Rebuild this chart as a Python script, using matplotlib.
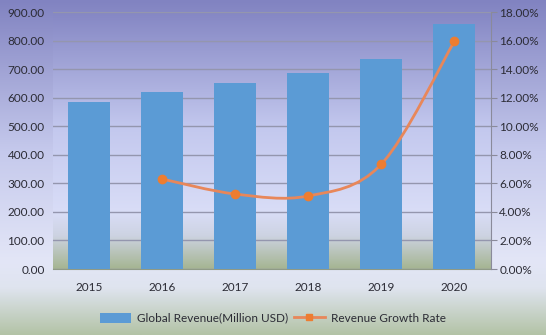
import numpy as np
import matplotlib.pyplot as plt
from matplotlib.path import Path
from matplotlib.patches import PathPatch
from matplotlib.colors import LinearSegmentedColormap
from matplotlib.lines import Line2D
from matplotlib.patches import Patch
from matplotlib.ticker import FuncFormatter

plt.rcParams['font.family'] = ['Lato', 'DejaVu Sans']

# data
years = ["2015", "2016", "2017", "2018", "2019", "2020"]
revenue = [585.0, 620.0, 651.0, 686.0, 735.0, 857.0]
growth_years = ["2016", "2017", "2018", "2019", "2020"]
growth = [6.30, 5.25, 5.12, 7.35, 15.95]

bar_color = "#5b9bd5"
line_color = "#e8875a"
marker_color = "#ed7d31"
text_color = "#2b2b35"
grid_color = "#9496ae"

fig = plt.figure(figsize=(5.46, 3.35), dpi=100)

# figure background gradient (purple top -> pale lavender -> green bottom)
bg_cmap = LinearSegmentedColormap.from_list(
    "bg", [(0.0, "#8183c1"), (0.45, "#c5c9ec"), (0.78, "#e3e6f7"),
           (0.86, "#dfe4ef"), (1.0, "#b3c3a6")])
bg = fig.add_axes([0, 0, 1, 1], zorder=-10)
bg.imshow(np.linspace(0, 1, 256).reshape(-1, 1), cmap=bg_cmap,
          aspect="auto", extent=[0, 1, 0, 1])
bg.set_axis_off()

ax = fig.add_axes([0.097, 0.197, 0.802, 0.767])
ax.set_facecolor("none")

# plot area gradient
pa_cmap = LinearSegmentedColormap.from_list(
    "pa", [(0.0, "#8587c4"), (0.45, "#c3c8ee"), (0.78, "#d9ddf7"),
           (0.87, "#cdd3e2"), (1.0, "#a5b592")])
ax.imshow(np.linspace(0, 1, 256).reshape(-1, 1), cmap=pa_cmap,
          aspect="auto", extent=[0, 1, 0, 1], transform=ax.transAxes,
          zorder=0)

x = np.arange(len(years))
ax.bar(x, revenue, width=0.575, color=bar_color, zorder=3)
ax.set_xlim(-0.5, len(years) - 0.5)
ax.set_ylim(0, 900)
ax.set_yticks(np.arange(0, 901, 100))
ax.yaxis.set_major_formatter(FuncFormatter(lambda v, p: f"{v:.2f}"))
ax.set_xticks(x)
ax.set_xticklabels(years)
ax.grid(axis="y", color=grid_color, linewidth=1.0, zorder=1)
ax.set_axisbelow(True)
ax.tick_params(axis="y", length=0, pad=6, labelsize=8.5, labelcolor=text_color)
ax.tick_params(axis="x", length=0, pad=9, labelsize=8.5, labelcolor=text_color)
for s in ["top", "right", "left"]:
    ax.spines[s].set_visible(False)
ax.spines["bottom"].set_color("#8f9a86")

# growth rate on secondary axis
ax2 = ax.twinx()
ax2.set_ylim(0, 18)
ax2.set_yticks(np.arange(0, 18.1, 2))
ax2.yaxis.set_major_formatter(FuncFormatter(lambda v, p: f"{v:.2f}%"))
ax2.tick_params(axis="y", length=4, color="#8a8a9a", pad=2, labelsize=8.5,
                labelcolor=text_color)
for s in ["top", "left", "bottom"]:
    ax2.spines[s].set_visible(False)
ax2.spines["right"].set_color("#8a8a9a")

gx = np.array([years.index(y) for y in growth_years], dtype=float)
gy = np.array(growth)

# smoothed line through the points with cubic bezier segments
verts = [(gx[0], gy[0])]
codes = [Path.MOVETO]
n = len(gx)
for i in range(n - 1):
    p0 = (gx[max(i - 1, 0)], gy[max(i - 1, 0)])
    p1 = (gx[i], gy[i])
    p2 = (gx[i + 1], gy[i + 1])
    p3 = (gx[min(i + 2, n - 1)], gy[min(i + 2, n - 1)])
    c1 = (p1[0] + (p2[0] - p0[0]) / 6, p1[1] + (p2[1] - p0[1]) / 6)
    c2 = (p2[0] - (p3[0] - p1[0]) / 6, p2[1] - (p3[1] - p1[1]) / 6)
    verts += [c1, c2, p2]
    codes += [Path.CURVE4] * 3
ax2.add_patch(PathPatch(Path(verts, codes), facecolor="none",
                        edgecolor=line_color, linewidth=2.0, zorder=4))
ax2.plot(gx, gy, linestyle="none", marker="o", markersize=6,
         color=marker_color, zorder=5)

handles = [Patch(facecolor=bar_color, edgecolor="none"),
           Line2D([0], [0], color=line_color, linewidth=2, marker="s",
                  markersize=5, markerfacecolor=marker_color,
                  markeredgecolor=marker_color)]
fig.legend(handles, ["Global Revenue(Million USD)", "Revenue Growth Rate"],
           loc="center", bbox_to_anchor=(0.5, 0.05), ncol=2, frameon=False,
           fontsize=8.5, handlelength=2.6, handleheight=0.9,
           columnspacing=0.5, handletextpad=0.5, labelcolor=text_color)

fig.savefig("out.png", dpi=100)
